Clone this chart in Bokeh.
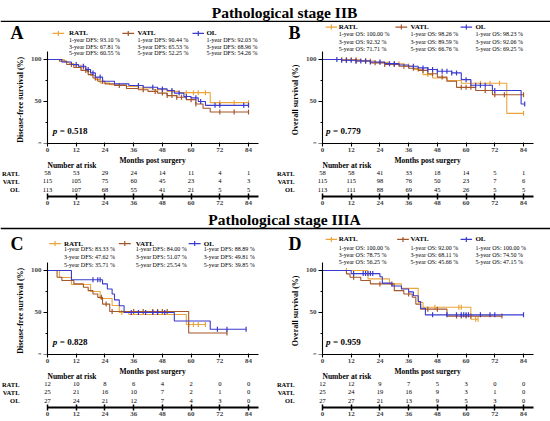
import numpy as np
from bokeh.plotting import figure
from bokeh.layouts import column, row
from bokeh.models import FixedTicker, Span, Range1d
from bokeh.core.properties import value
from bokeh.embed import file_html
from bokeh.resources import INLINE

FONT = "Liberation Serif"
COLORS = {"RATL": "#EBA53A", "VATL": "#A5562A", "OL": "#3A3ACF"}
GROUPS = ["RATL", "VATL", "OL"]
MONTHS = [0, 12, 24, 36, 48, 60, 72, 84]

# ---- A: disease-free survival, stage IIB
A_RATL_T = [0, 7, 9, 11, 13, 16, 18, 20, 22, 26, 33, 38, 44, 50, 55, 68]
A_RATL_S = [100, 97, 95, 93.1, 91, 86, 81, 76, 72, 70, 67.8, 66, 64, 62, 60.5, 48.6]
A_RATL_C = [14, 15, 17, 40, 46, 52, 58, 61, 63, 66, 72, 78, 84]
A_VATL_T = [0, 5, 8, 11, 14, 17, 19, 21, 24, 28, 33, 38, 42, 46, 50, 54, 58, 62, 65, 68]
A_VATL_S = [100, 98, 94, 90.4, 87, 82, 78, 74, 71, 69, 65.5, 64, 62, 60, 57, 55, 52.2, 47, 42, 37.5]
A_VATL_C = [10, 16, 20, 23, 30, 40, 45, 48, 50, 52, 54, 56, 60, 62, 72, 78, 84]
A_OL_T = [0, 6, 10, 13, 16, 18, 20, 23, 28, 34, 40, 46, 50, 53, 57, 60, 63, 66]
A_OL_S = [100, 97, 94, 92, 88, 84, 79, 74, 71, 69, 67, 65, 63, 60, 56, 54.3, 50, 45.4]
A_OL_C = [12, 15, 17, 19, 22, 38, 44, 48, 52, 55, 58, 62, 64, 70, 72, 82, 84]
A_RISK = {"RATL": [58, 53, 29, 24, 14, 11, 4, 1],
          "VATL": [115, 105, 75, 60, 45, 23, 4, 3],
          "OL": [113, 107, 68, 55, 41, 21, 5, 5]}
A_STATS = {"RATL": ["93.10", "67.81", "60.55"],
           "VATL": ["90.44", "65.53", "52.25"],
           "OL": ["92.03", "68.96", "54.26"]}

# ---- B: overall survival, stage IIB
B_RATL_T = [0, 16, 22, 28, 34, 38, 42, 46, 52, 58, 77]
B_RATL_S = [100, 98.2, 96.5, 94.8, 92.3, 88, 82, 78, 75, 71.7, 35.9]
B_RATL_C = [8, 10, 12, 14, 18, 20, 24, 30, 32, 36, 40, 44, 62, 66, 70, 74, 84]
B_VATL_T = [0, 8, 14, 20, 26, 32, 36, 40, 44, 48, 52, 56, 64, 71]
B_VATL_S = [100, 99, 98.3, 96, 94, 92, 89.6, 87, 83, 79, 74, 66.8, 63, 58]
B_VATL_C = [10, 14, 18, 22, 26, 30, 34, 38, 42, 46, 50, 58, 60, 62, 68, 72, 76, 84]
B_OL_T = [0, 8, 14, 20, 26, 32, 36, 40, 44, 48, 54, 58, 62, 71, 83]
B_OL_S = [100, 99, 98.2, 97, 95, 93.5, 92, 90, 88, 86, 84, 76, 69.3, 63, 47]
B_OL_C = [6, 8, 10, 12, 14, 16, 18, 20, 24, 28, 30, 38, 42, 44, 46, 48, 50, 52, 54, 56,
          60, 64, 66, 68, 72, 84.5]
B_RISK = {"RATL": [58, 58, 41, 33, 18, 14, 5, 1],
          "VATL": [115, 115, 98, 76, 50, 23, 7, 6],
          "OL": [113, 111, 88, 69, 45, 26, 5, 5]}
B_STATS = {"RATL": ["100.00", "92.32", "71.71"],
           "VATL": ["98.26", "89.59", "66.76"],
           "OL": ["98.23", "92.06", "69.25"]}

# ---- C: disease-free survival, stage IIIA
C_RATL_T = [0, 5, 10, 18, 22, 27, 30, 34, 58]
C_RATL_S = [100, 91.7, 83.3, 75, 66.7, 58.3, 50, 47.6, 35.7]
C_RATL_C = [31, 59, 61, 63, 66]
C_VATL_T = [0, 4, 6, 11, 15, 17, 19, 21, 23, 26, 59]
C_VATL_S = [100, 92, 88, 84, 80, 76, 72, 68, 60, 51.1, 25.5]
C_VATL_C = [22.5, 24.5, 27, 36, 40, 44, 46, 48, 50, 75]
C_OL_T = [0, 10, 23, 25, 27, 28, 30, 32, 53, 68]
C_OL_S = [100, 88.9, 84, 78, 72, 65, 58, 50, 39.9, 30]
C_OL_C = [19, 21, 22, 35, 38, 41, 44, 46, 49, 71, 75, 83]
C_RISK = {"RATL": [12, 10, 8, 6, 4, 2, 0, 0],
          "VATL": [25, 21, 16, 10, 7, 2, 1, 0],
          "OL": [27, 24, 21, 12, 7, 4, 3, 0]}
C_STATS = {"RATL": ["83.33", "47.62", "35.71"],
           "VATL": ["84.00", "51.07", "25.54"],
           "OL": ["88.89", "49.81", "39.85"]}

# ---- D: overall survival, stage IIIA
D_RATL_T = [0, 19, 28, 33, 40, 42, 62]
D_RATL_S = [100, 90, 84, 78.75, 62, 56.25, 42]
D_RATL_C = [10, 47, 57, 58, 64, 65]
D_VATL_T = [0, 10, 11.5, 16, 20, 30, 34, 37.5, 39, 41, 52]
D_VATL_S = [100, 96, 92, 88, 84, 76, 72, 68.1, 60, 54, 45.7]
D_VATL_C = [13, 24, 29, 36, 44, 48, 56, 58, 60, 62, 75]
D_OL_T = [0, 12, 24, 25, 29, 33, 36, 38, 40, 41, 43]
D_OL_S = [100, 96.3, 92.6, 85, 81.5, 78, 74.5, 70, 63, 55, 47.2]
D_OL_C = [13, 17, 18, 19, 20, 21, 46, 52, 56, 58, 59, 60, 61, 66, 70, 72, 84]
D_RISK = {"RATL": [12, 12, 9, 7, 5, 3, 0, 0],
          "VATL": [25, 24, 19, 16, 9, 3, 1, 0],
          "OL": [27, 27, 21, 13, 9, 5, 3, 0]}
D_STATS = {"RATL": ["100.00", "78.75", "56.25"],
           "VATL": ["92.00", "68.11", "45.66"],
           "OL": ["100.00", "74.50", "47.15"]}

# layout (pixels)
COL_W = 275
LEFT = 47           # month 0 from the column's left edge
PX = 2.393          # px per month
KM_FRAME_H = 121
KM_BOTTOM = 13
Y_TOP = 144
RISK_FRAME_H = 40
RISK_BOTTOM = 13
ROW_PX = 8.2
RY0 = 1 - 7 / ROW_PX


def txt(p, x, y, s, size, style="normal", align="left", **kw):
    p.text(x=[x], y=[y], text=[s], text_font=value(FONT), text_font_size=size,
           text_font_style=style, text_align=align, text_baseline="middle",
           text_color="black", **kw)


def clean(p):
    p.xgrid.visible = False
    p.ygrid.visible = False
    p.outline_line_color = None
    p.background_fill_color = "white"
    p.border_fill_color = "white"


def style_xaxis(ax, width):
    ax.ticker = FixedTicker(ticks=MONTHS)
    ax.bounds = (0, 88)
    ax.axis_line_width = width
    ax.major_tick_line_width = width
    ax.minor_tick_line_color = None
    ax.major_label_text_font = FONT
    ax.major_label_text_font_size = "7px"
    ax.major_label_text_font_style = "bold"
    ax.major_label_standoff = 1


def km_figure(ylabel, metric, curves, stats, pval, letter, leg):
    # the frame spans the whole column; the y axis sits at month 0 inside it
    p = figure(width=COL_W, height=KM_FRAME_H + KM_BOTTOM,
               x_range=Range1d(-LEFT / PX, (COL_W - LEFT) / PX), y_range=Range1d(0, Y_TOP),
               output_backend="svg", toolbar_location=None,
               min_border_left=0, min_border_right=0, min_border_top=0,
               min_border_bottom=KM_BOTTOM)
    clean(p)
    xa = p.xaxis[0]
    style_xaxis(xa, 1.1)
    xa.major_tick_in = 1
    xa.major_tick_out = 3
    ya = p.yaxis[0]
    ya.fixed_location = 0
    ya.ticker = FixedTicker(ticks=[0, 50, 100], minor_ticks=[25, 75])
    ya.bounds = (0, 110)
    ya.axis_line_width = 1.1
    ya.major_tick_in = 0
    ya.major_tick_out = 4
    ya.minor_tick_in = 0
    ya.minor_tick_out = 2
    ya.major_label_text_font = FONT
    ya.major_label_text_font_size = "7px"
    ya.major_label_text_font_style = "bold"
    ya.major_label_standoff = 2
    # axis title as rotated text so that it is not cut at the frame edge
    p.text(x=[-11.2], y=[52], text=[ylabel], angle=np.pi / 2, text_font=value(FONT),
           text_font_size="8px", text_font_style="bold", text_align="center",
           text_baseline="middle", text_color="black")

    for g in GROUPS:
        t, s, cens = curves[g]
        end = max(max(cens), t[-1])
        p.step(x=list(t) + [end], y=list(s) + [s[-1]], mode="after",
               line_color=COLORS[g], line_width=1.1)
        idx = np.searchsorted(t, cens, side="right") - 1
        p.scatter(x=cens, y=np.asarray(s)[idx], marker="dash", size=5,
                  angle=np.pi / 2, line_color=COLORS[g], line_width=1.2)

    # legend with survival rates
    for g, (m0, m1, tx) in zip(GROUPS, leg["marks"]):
        ny = leg["name_y"]
        p.segment(x0=[m0], y0=[ny], x1=[m1], y1=[ny], line_color=COLORS[g], line_width=1.1)
        p.scatter(x=[(m0 + m1) / 2], y=[ny], marker="dash", size=5, angle=np.pi / 2,
                  line_color=COLORS[g], line_width=1.2)
        txt(p, tx, ny, g, "7px", "bold")
        for yr, val, sy in zip([1, 3, 5], stats[g], leg["stat_y"]):
            txt(p, tx, sy, "%d-year %s: %s %%" % (yr, metric, val), "6px")

    txt(p, leg["p_x"], 15, "p", "9px", "bold italic")
    txt(p, leg["p_x"], 15, "= " + pval, "9px", "bold", x_offset=7)
    txt(p, leg["letter"][0], leg["letter"][1], letter, "18px", "bold")
    return p


def risk_figure(counts):
    x0 = -LEFT / PX
    p = figure(width=COL_W, height=RISK_FRAME_H + RISK_BOTTOM,
               x_range=Range1d(x0, x0 + COL_W / PX),
               y_range=Range1d(RY0, RY0 + RISK_FRAME_H / ROW_PX),
               output_backend="svg", toolbar_location=None, y_axis_location=None,
               min_border_left=0, min_border_right=0, min_border_top=0,
               min_border_bottom=RISK_BOTTOM)
    clean(p)
    xa = p.xaxis[0]
    style_xaxis(xa, 2)
    xa.major_tick_in = 3
    xa.major_tick_out = 3
    xa.major_tick_line_width = 1.5

    txt(p, 43.9, 4.5, "Months post surgery", "7.5px", "bold", align="center")
    txt(p, 0, 3.95, "Number at risk", "7.5px", "bold")
    label_x = x0 + 19 / PX
    for g, yrow in zip(GROUPS, [3, 2, 1]):
        txt(p, label_x, yrow, g, "6.5px", "bold", align="right")
        p.text(x=MONTHS, y=[yrow] * len(MONTHS), text=[str(n) for n in counts[g]],
               text_font=value(FONT), text_font_size="6.5px", text_align="center",
               text_baseline="middle", text_color="black")
    return p


def header(title, h, ty, line_y):
    p = figure(width=2 * COL_W, height=h, x_range=Range1d(0, 2 * COL_W),
               y_range=Range1d(0, h), output_backend="svg", toolbar_location=None,
               x_axis_location=None, y_axis_location=None, min_border=0)
    clean(p)
    txt(p, 284, ty, title, "15.5px", "bold", align="center")
    p.add_layout(Span(location=line_y, dimension="width", line_color="black", line_width=1.5))
    return p


LEG_A = dict(marks=[(2.1, 7.0, 9.0), (31.3, 36.2, 37.6), (60.6, 65.4, 66.4)],
             name_y=131, stat_y=[122.6, 115, 107.5], p_x=2.2, letter=(-15.5, 131))
LEG_B = dict(marks=[(1.3, 6.1, 6.8), (30.5, 35.4, 36.8), (57.7, 62.5, 63.9)],
             name_y=138.5, stat_y=[130, 121, 112.5], p_x=1.5, letter=(-14.2, 132))
LEG_C = dict(marks=[(0.7, 5.6, 6.9), (29.8, 34.8, 36.9), (59.0, 64.0, 65.3)],
             name_y=132, stat_y=[125, 116, 107], p_x=2.2, letter=(-15.5, 132))
LEG_D = dict(marks=[(1.3, 6.1, 6.8), (31.2, 36.1, 36.8), (57.7, 62.5, 63.9)],
             name_y=137, stat_y=[127, 118.2, 110], p_x=1.5, letter=(-14.2, 132))

curves_a = {"RATL": (A_RATL_T, A_RATL_S, A_RATL_C), "VATL": (A_VATL_T, A_VATL_S, A_VATL_C),
            "OL": (A_OL_T, A_OL_S, A_OL_C)}
curves_b = {"RATL": (B_RATL_T, B_RATL_S, B_RATL_C), "VATL": (B_VATL_T, B_VATL_S, B_VATL_C),
            "OL": (B_OL_T, B_OL_S, B_OL_C)}
curves_c = {"RATL": (C_RATL_T, C_RATL_S, C_RATL_C), "VATL": (C_VATL_T, C_VATL_S, C_VATL_C),
            "OL": (C_OL_T, C_OL_S, C_OL_C)}
curves_d = {"RATL": (D_RATL_T, D_RATL_S, D_RATL_C), "VATL": (D_VATL_T, D_VATL_S, D_VATL_C),
            "OL": (D_OL_T, D_OL_S, D_OL_C)}

km_a = km_figure("Disease-free survival (%)", "DFS", curves_a, A_STATS, "0.518", "A", LEG_A)
km_b = km_figure("Overall survival (%)", "OS", curves_b, B_STATS, "0.779", "B", LEG_B)
km_c = km_figure("Disease-free survival (%)", "DFS", curves_c, C_STATS, "0.828", "C", LEG_C)
km_d = km_figure("Overall survival (%)", "OS", curves_d, D_STATS, "0.959", "D", LEG_D)

p = column(
    header("Pathological stage IIB", 22, 10, 1),
    row(column(km_a, risk_figure(A_RISK)), column(km_b, risk_figure(B_RISK))),
    header("Pathological stage IIIA", 24, 14, 5),
    row(column(km_c, risk_figure(C_RISK)), column(km_d, risk_figure(D_RISK))),
)

open("out.html", "w").write(file_html(p, INLINE))
